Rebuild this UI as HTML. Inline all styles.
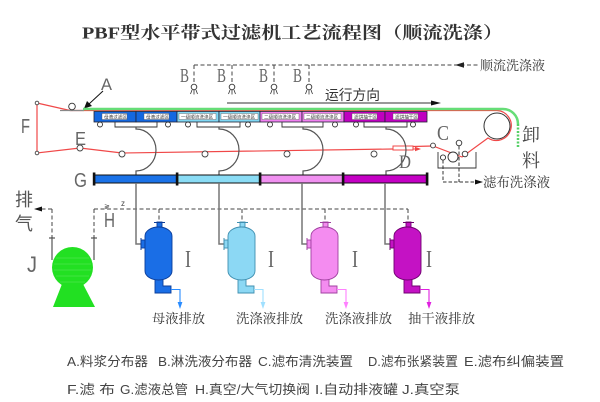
<!DOCTYPE html>
<html><head><meta charset="utf-8">
<style>
html,body{margin:0;padding:0;background:#fff;}
svg{display:block;}
</style></head><body>
<svg width="600" height="402" viewBox="0 0 600 402" xmlns="http://www.w3.org/2000/svg">
<rect width="600" height="402" fill="#fff"/>

<!-- Title -->
<text x="82" y="38.5" font-family="'Liberation Serif','Noto Serif CJK SC',serif" font-weight="bold" font-size="17" fill="#333" textLength="421" lengthAdjust="spacingAndGlyphs">PBF型水平带式过滤机工艺流程图（顺流洗涤）</text>

<!-- 顺流洗涤液 dashed header -->
<g stroke="#444" stroke-width="1" fill="none" stroke-dasharray="4,2.5">
  <path d="M194,65 H478"/>
  <path d="M194,65 V84"/><path d="M232,65 V84"/><path d="M274,65 V84"/><path d="M309,65 V84"/>
</g>
<polygon points="455,65 464,62.3 464,67.7" fill="#222"/>
<text x="480" y="70" font-family="'Liberation Serif','Noto Serif CJK SC',serif" font-size="13" fill="#333" textLength="65" lengthAdjust="spacingAndGlyphs">顺流洗涤液</text>

<!-- B labels -->
<g font-family="'Liberation Serif',serif" font-size="20" fill="#666">
  <text x="180" y="82" textLength="9" lengthAdjust="spacingAndGlyphs">B</text>
  <text x="217" y="82" textLength="9" lengthAdjust="spacingAndGlyphs">B</text>
  <text x="259" y="82" textLength="9" lengthAdjust="spacingAndGlyphs">B</text>
  <text x="293" y="82" textLength="9" lengthAdjust="spacingAndGlyphs">B</text>
</g>
<!-- nozzles -->
<g stroke="#333" stroke-width="0.9" fill="#fff">
  <circle cx="194" cy="87" r="2.8"/><circle cx="232" cy="87" r="2.8"/><circle cx="274" cy="87" r="2.8"/><circle cx="309" cy="87" r="2.8"/>
</g>
<g stroke="#333" stroke-width="0.8" fill="none">
  <path d="M192,90 L190.5,94 M194,90 V94.5 M196,90 L197.5,94"/>
  <path d="M230,90 L228.5,94 M232,90 V94.5 M234,90 L235.5,94"/>
  <path d="M272,90 L270.5,94 M274,90 V94.5 M276,90 L277.5,94"/>
  <path d="M307,90 L305.5,94 M309,90 V94.5 M311,90 L312.5,94"/>
</g>

<!-- A label & arrow -->
<text x="101" y="90" font-family="'Liberation Sans',sans-serif" font-size="17" fill="#666" textLength="11" lengthAdjust="spacingAndGlyphs">A</text>
<path d="M103,91 L89,104" stroke="#111" stroke-width="1"/>
<polygon points="84,108.5 87,101 92,106" fill="#111"/>

<!-- running direction -->
<text x="325" y="100" font-family="'Liberation Sans','Noto Sans CJK SC',sans-serif" font-size="14" fill="#333" textLength="55" lengthAdjust="spacingAndGlyphs">运行方向</text>
<path d="M227,103 H432" stroke="#999" stroke-width="2"/>
<polygon points="441,103 431,100.5 431,105.5" fill="#111"/>

<!-- red filter cloth -->
<g stroke="#f04848" stroke-width="1.2" fill="none">
  <path d="M37,103 L70,110.5 L497,110.5 A15 15 0 1 1 488,138 L462,157 L433,146 L413,146.5"/>
  <path d="M37,103 V153 L80,148 L122,153 L393,149"/>
</g>
<!-- D tensioner -->
<rect x="393" y="146" width="20" height="4" fill="#fff" stroke="#f04848" stroke-width="1"/>
<path d="M413,149 H417" stroke="#f04848" stroke-width="1"/>
<polygon points="421,149 415,146.8 415,151.2" fill="#f04848"/>

<!-- gray stub at A -->
<path d="M60,110.5 H84" stroke="#888" stroke-width="1.2"/>
<circle cx="72" cy="106.5" r="3.3" fill="#fff" stroke="#333" stroke-width="0.9"/>

<!-- green belt -->
<path d="M83,109 H503 A15 15 0 0 1 518,124" stroke="#66dd77" stroke-width="2.5" fill="none"/>
<path d="M518,124 V147" stroke="#55d066" stroke-width="2.5" fill="none" stroke-dasharray="2,1.5"/>

<!-- big roller -->
<circle cx="497" cy="126" r="13" fill="none" stroke="#333" stroke-width="1"/>

<!-- trays -->
<g stroke="#223" stroke-width="0.8">
  <rect x="94" y="111.5" width="42" height="10.5" fill="#1468e0"/>
  <rect x="136" y="111.5" width="41" height="10.5" fill="#1468e0"/>
  <rect x="177" y="111.5" width="42" height="10.5" fill="#80d8f4"/>
  <rect x="219" y="111.5" width="41" height="10.5" fill="#80d8f4"/>
  <rect x="260" y="111.5" width="42" height="10.5" fill="#f080f0"/>
  <rect x="302" y="111.5" width="42" height="10.5" fill="#f080f0"/>
  <rect x="344" y="111.5" width="41" height="10.5" fill="#c000c0"/>
  <rect x="385" y="111.5" width="42" height="10.5" fill="#c000c0"/>
</g>
<g fill="#fff" stroke="#555" stroke-width="0.4">
  <rect x="102" y="113.5" width="25" height="6"/>
  <rect x="144" y="113.5" width="25" height="6"/>
  <rect x="179" y="113.5" width="37" height="6"/>
  <rect x="221" y="113.5" width="37" height="6"/>
  <rect x="262" y="113.5" width="37" height="6"/>
  <rect x="304" y="113.5" width="37" height="6"/>
  <rect x="352" y="113.5" width="25" height="6"/>
  <rect x="393" y="113.5" width="25" height="6"/>
</g>
<g font-family="'Noto Sans CJK SC',sans-serif" font-size="4.6" fill="#333">
  <text x="104" y="118.4">母液过滤区</text>
  <text x="146" y="118.4">母液过滤区</text>
  <text x="181" y="118.4">一级顺流洗涤区</text>
  <text x="223" y="118.4">一级顺流洗涤区</text>
  <text x="264" y="118.4">二级顺流洗涤区</text>
  <text x="306" y="118.4">二级顺流洗涤区</text>
  <text x="354" y="118.4">滤饼抽干区</text>
  <text x="395" y="118.4">滤饼抽干区</text>
</g>

<!-- under-tray rollers & brackets -->
<g stroke="#333" stroke-width="0.9" fill="#fff">
  <circle cx="100" cy="124.5" r="2.5"/><circle cx="168" cy="124.5" r="2.5"/>
  <circle cx="188" cy="124.5" r="2.5"/><circle cx="248" cy="124.5" r="2.5"/>
  <circle cx="270" cy="124.5" r="2.5"/><circle cx="335" cy="124.5" r="2.5"/>
  <circle cx="356" cy="124.5" r="2.5"/><circle cx="413" cy="124.5" r="2.5"/>
</g>
<g stroke="#333" stroke-width="0.9" fill="none">
  <path d="M115,122 V127 H157 V122"/>
  <path d="M197,122 V127 H240 V122"/>
  <path d="M282,122 V127 H323 V122"/>
  <path d="M364,122 V127 H407 V122"/>
</g>
<!-- lower rollers -->
<g stroke="#444" stroke-width="0.9" fill="#fff">
  <circle cx="37" cy="103" r="1.8"/><circle cx="37" cy="153" r="1.8"/>
  <circle cx="80" cy="148" r="3"/>
  <circle cx="122" cy="154" r="3"/><circle cx="205" cy="154" r="3"/>
  <circle cx="287" cy="154" r="3"/><circle cx="374" cy="154" r="3"/>
</g>
<!-- arc pipes -->
<g stroke="#555" stroke-width="1.2" fill="none">
  <path d="M136,127 V129 A20 21 0 0 1 136,171 V175"/>
  <path d="M219,127 V129 A20 21 0 0 1 219,171 V175"/>
  <path d="M303,127 V129 A20 21 0 0 1 303,171 V175"/>
  <path d="M386,127 V129 A20 21 0 0 1 386,171 V175"/>
</g>

<!-- C apparatus -->
<path d="M438,152 V168 H476 V152" stroke="#333" stroke-width="0.9" fill="none"/>
<g stroke="#333" stroke-width="0.9" fill="#fff">
  <circle cx="433" cy="145.5" r="2.4"/>
  <circle cx="465" cy="154" r="2.8"/>
  <circle cx="453" cy="157" r="5"/>
  <circle cx="443" cy="157.5" r="2.6"/>
  <circle cx="459" cy="143" r="2.8"/>
</g>
<g stroke="#333" stroke-width="1" fill="none" stroke-dasharray="3.5,2">
  <path d="M443,160 V182 H476"/>
  <path d="M459,146 V182"/>
</g>
<polygon points="483,182 475,179.5 475,184.5" fill="#111"/>
<text x="483" y="187" font-family="'Liberation Serif','Noto Serif CJK SC',serif" font-size="13.5" fill="#333" textLength="67" lengthAdjust="spacingAndGlyphs">滤布洗涤液</text>

<!-- letter labels -->
<g font-family="'Liberation Sans',sans-serif" fill="#666">
  <text x="21" y="133" font-size="20" textLength="9" lengthAdjust="spacingAndGlyphs">F</text>
  <text x="75" y="145" font-size="18" textLength="11" lengthAdjust="spacingAndGlyphs">E</text>
  <text x="74" y="187" font-size="20" textLength="13" lengthAdjust="spacingAndGlyphs">G</text>
  <text x="104" y="227" font-size="20" textLength="11" lengthAdjust="spacingAndGlyphs">H</text>
  <text x="27" y="272" font-size="22" textLength="10" lengthAdjust="spacingAndGlyphs">J</text>
</g>
<g font-family="'Liberation Serif',serif" fill="#666">
  <text x="437" y="140" font-size="21" textLength="12" lengthAdjust="spacingAndGlyphs">C</text>
  <text x="399" y="168" font-size="19" textLength="12" lengthAdjust="spacingAndGlyphs">D</text>
  <text x="185" y="267" font-size="24" textLength="6" lengthAdjust="spacingAndGlyphs">I</text>
  <text x="268" y="267" font-size="24" textLength="6" lengthAdjust="spacingAndGlyphs">I</text>
  <text x="352" y="267" font-size="24" textLength="6" lengthAdjust="spacingAndGlyphs">I</text>
  <text x="426" y="267" font-size="24" textLength="6" lengthAdjust="spacingAndGlyphs">I</text>
</g>
<g font-family="'Liberation Serif','Noto Serif CJK SC',serif" font-size="18" fill="#444">
  <text x="522" y="141">卸</text>
  <text x="522" y="167">料</text>
</g>
<g font-family="'Liberation Sans','Noto Sans CJK SC',sans-serif" font-size="18" fill="#555">
  <text x="15" y="206">排</text>
  <text x="15" y="230">气</text>
</g>

<!-- G header bar -->
<rect x="94" y="175" width="83" height="8" fill="#1a72e8"/>
<rect x="177" y="175" width="83" height="8" fill="#8adcf5"/>
<rect x="260" y="175" width="83" height="8" fill="#f090f0"/>
<rect x="343" y="175" width="84" height="8" fill="#c400c4"/>
<path d="M94,175 H427 M94,183 H427" stroke="#111" stroke-width="0.9"/>
<g fill="#111">
  <rect x="92.8" y="172.5" width="2.6" height="13"/>
  <rect x="175.8" y="172.5" width="2.6" height="13"/>
  <rect x="258.8" y="172.5" width="2.6" height="13"/>
  <rect x="341.8" y="172.5" width="2.6" height="13"/>
  <rect x="425.8" y="172.5" width="2.6" height="13"/>
</g>

<!-- vacuum dashed line -->
<g stroke="#444" stroke-width="1" fill="none" stroke-dasharray="4,2.5">
  <path d="M94,209 H408"/>
  <path d="M94,209 V238"/>
  <path d="M52,209 V238"/>
  <path d="M52,209 H40"/>
  <path d="M159,209 V222"/><path d="M242,209 V222"/><path d="M325,209 V222"/><path d="M408,209 V222"/>
</g>
<polygon points="34,209 42,206.5 42,211.5" fill="#111"/>
<path d="M49,238 H55 M91,238 H97" stroke="#333" stroke-width="1"/>
<path d="M52,238 V260 M94,238 V260" stroke="#555" stroke-width="1.2"/>
<text x="121" y="206" font-family="'Liberation Sans',sans-serif" font-size="8" fill="#444">z</text>
<text x="104" y="209" font-family="'Liberation Sans',sans-serif" font-size="7" fill="#444">≷</text>

<!-- pump -->
<polygon points="62,284 83,284 95,307 53,307" fill="#22e022"/>
<circle cx="72.5" cy="267.5" r="20.5" fill="#22e022"/>
<g stroke="#ffffff" stroke-width="0.4" opacity="0.35">
  <path d="M56,258 H89 M54,264 H91 M54,270 H91 M56,276 H89 M60,282 H85"/>
</g>

<!-- pipes from G to tanks -->
<g stroke="#777" stroke-width="1.5" fill="none">
  <path d="M136,183 V244 H141"/>
  <path d="M219,183 V244 H224"/>
  <path d="M302,183 V244 H307"/>
  <path d="M385,183 V244 H390"/>
</g>

<!-- tanks -->
<g stroke-width="0.9">
  <g fill="#1a6ee6" stroke="#0b3d9a">
    <rect x="157" y="222" width="5" height="5"/>
    <rect x="141" y="240" width="4" height="8"/>
    <path d="M155,278 V293 H171 V286 H163 V278 Z"/>
    <rect x="145" y="227" width="27" height="53" rx="13.5" ry="9"/>
  </g>
  <path d="M154,222.5 H165 M141,238 V250" stroke="#0b3d9a" stroke-width="1"/>
  <g fill="#8cd8f4" stroke="#3f8fb0">
    <rect x="240" y="222" width="5" height="5"/>
    <rect x="224" y="240" width="4" height="8"/>
    <path d="M238,278 V293 H254 V286 H246 V278 Z"/>
    <rect x="228" y="227" width="27" height="53" rx="13.5" ry="9"/>
  </g>
  <path d="M237,222.5 H248 M224,238 V250" stroke="#3f8fb0" stroke-width="1"/>
  <g fill="#f48cf0" stroke="#a040a0">
    <rect x="323" y="222" width="5" height="5"/>
    <rect x="307" y="240" width="4" height="8"/>
    <path d="M321,278 V293 H337 V286 H329 V278 Z"/>
    <rect x="311" y="227" width="27" height="53" rx="13.5" ry="9"/>
  </g>
  <path d="M320,222.5 H331 M307,238 V250" stroke="#a040a0" stroke-width="1"/>
  <g fill="#c412c4" stroke="#700070">
    <rect x="406" y="222" width="5" height="5"/>
    <rect x="390" y="240" width="4" height="8"/>
    <path d="M404,278 V293 H420 V286 H412 V278 Z"/>
    <rect x="394" y="227" width="27" height="53" rx="13.5" ry="9"/>
  </g>
  <path d="M403,222.5 H414 M390,238 V250" stroke="#700070" stroke-width="1"/>
</g>

<!-- outlet arrows -->
<path d="M171,289.5 H180 V304" stroke="#2a8cff" stroke-width="1.1" fill="none"/>
<polygon points="180,309 177.6,302 182.4,302" fill="#2a8cff"/>
<path d="M254,289.5 H263 V304" stroke="#a0e0ff" stroke-width="1.1" fill="none"/>
<polygon points="263,309 260.6,302 265.4,302" fill="#a0e0ff"/>
<path d="M337,289.5 H346 V304" stroke="#ff80ff" stroke-width="1.1" fill="none"/>
<polygon points="346,309 343.6,302 348.4,302" fill="#ff80ff"/>
<path d="M420,289.5 H429 V304" stroke="#e020e0" stroke-width="1.1" fill="none"/>
<polygon points="429,309 426.6,302 431.4,302" fill="#e020e0"/>

<!-- tank labels -->
<g font-family="'Liberation Serif','Noto Serif CJK SC',serif" font-size="13" fill="#333">
  <text x="152" y="323" textLength="53" lengthAdjust="spacingAndGlyphs">母液排放</text>
  <text x="236" y="323" textLength="67" lengthAdjust="spacingAndGlyphs">洗涤液排放</text>
  <text x="325" y="323" textLength="67" lengthAdjust="spacingAndGlyphs">洗涤液排放</text>
  <text x="408" y="323" textLength="67" lengthAdjust="spacingAndGlyphs">抽干液排放</text>
</g>

<!-- legend -->
<g font-family="'Liberation Sans','Noto Sans CJK SC',sans-serif" font-size="13" fill="#444">
  <text x="67" y="366" textLength="81" lengthAdjust="spacingAndGlyphs">A.料浆分布器</text>
  <text x="158" y="366" textLength="94" lengthAdjust="spacingAndGlyphs">B.淋洗液分布器</text>
  <text x="258" y="366" textLength="95" lengthAdjust="spacingAndGlyphs">C.滤布清洗装置</text>
  <text x="368" y="366" textLength="90" lengthAdjust="spacingAndGlyphs">D.滤布张紧装置</text>
  <text x="464" y="366" textLength="100" lengthAdjust="spacingAndGlyphs">E.滤布纠偏装置</text>
  <text x="67" y="394" textLength="48" lengthAdjust="spacingAndGlyphs">F.滤 布</text>
  <text x="120" y="394" textLength="68" lengthAdjust="spacingAndGlyphs">G.滤液总管</text>
  <text x="195" y="394" textLength="115" lengthAdjust="spacingAndGlyphs">H.真空/大气切换阀</text>
  <text x="315" y="394" textLength="83" lengthAdjust="spacingAndGlyphs">I.自动排液罐</text>
  <text x="402" y="394" textLength="58" lengthAdjust="spacingAndGlyphs">J.真空泵</text>
</g>
</svg>
</body></html>
